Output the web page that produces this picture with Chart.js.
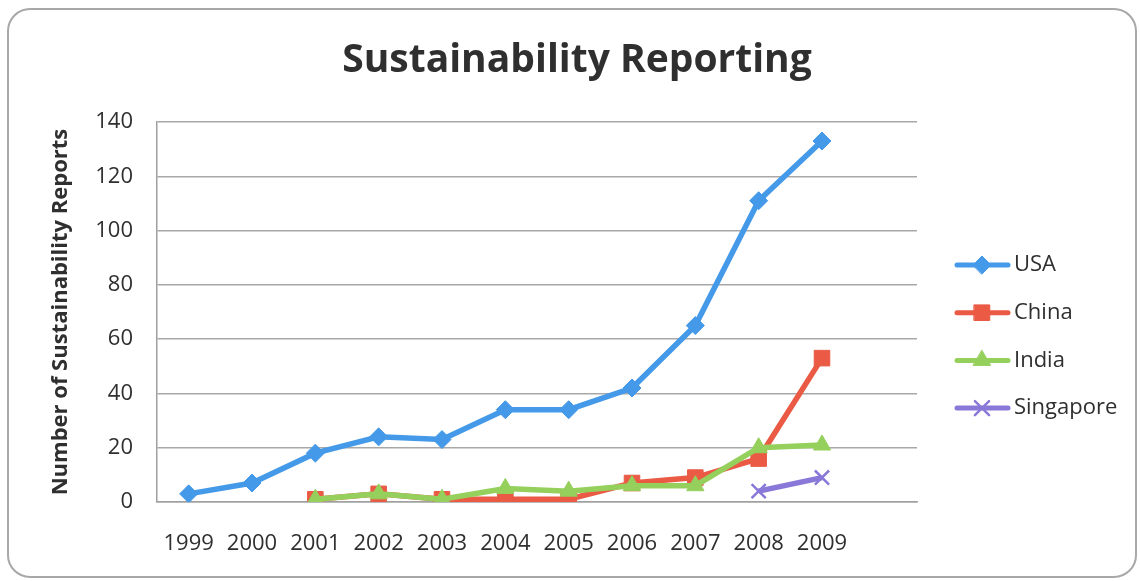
<!DOCTYPE html>
<html>
<head>
<meta charset="utf-8">
<script src="https://cdn.jsdelivr.net/npm/chart.js@4"></script>
<style>
html,body{margin:0;padding:0;background:#fff;}
#wrap{width:1140px;height:581px;position:relative;}
</style>
</head>
<body>
<div id="wrap"><canvas id="c" width="1140" height="581"></canvas></div>
<script>
const years = ['1999','2000','2001','2002','2003','2004','2005','2006','2007','2008','2009',''];
const usa       = [3, 7, 18, 24, 23, 34, 34, 42, 65, 111, 133, null];
const china     = [null, null, 1, 3, 1, 1, 1, 7, 9, 16, 53, null];
const india     = [null, null, 1, 3, 1, 5, 4, 6, 6, 20, 21, null];
const singapore = [null, null, null, null, null, null, null, null, null, 4, 9, null];
const yTicks = [0, 20, 40, 60, 80, 100, 120, 140];
const chartTitle = 'Sustainability Reporting';

const FONT = "'Open Sans', 'DejaVu Sans', sans-serif";
const TXT = '#2f2f2f';

const frame = {
  id: 'frame',
  beforeDraw(chart) {
    const ctx = chart.ctx;
    ctx.save();
    ctx.fillStyle = '#fff';
    ctx.fillRect(0, 0, chart.width, chart.height);
    ctx.strokeStyle = '#a8a8a8';
    ctx.lineWidth = 2;
    ctx.beginPath();
    ctx.roundRect(8, 9, 1128, 568, 22);
    ctx.stroke();
    ctx.fillStyle = TXT;
    ctx.font = 'bold 39px ' + FONT;
    ctx.textAlign = 'center';
    ctx.textBaseline = 'middle';
    ctx.fillText(chartTitle, 577, 61);
    ctx.restore();
  }
};

const legendRight = {
  id: 'legendRight',
  afterDraw(chart) {
    const ctx = chart.ctx;
    ctx.save();
    chart.data.datasets.forEach((ds, i) => {
      const y = 265 + i * 47.7;
      ctx.strokeStyle = ds.borderColor;
      ctx.lineWidth = 5;
      ctx.lineCap = 'round';
      ctx.beginPath();
      ctx.moveTo(957, y);
      ctx.lineTo(1008, y);
      ctx.stroke();
      ctx.fillStyle = ds.pointBackgroundColor;
      ctx.strokeStyle = ds.pointBorderColor;
      ctx.lineWidth = ds.pointBorderWidth;
      Chart.helpers.drawPoint(ctx, {pointStyle: ds.pointStyle, radius: ds.pointRadius, rotation: 0, borderWidth: ds.pointBorderWidth}, 982, y);
      ctx.fillStyle = TXT;
      ctx.font = '22px ' + FONT;
      ctx.textAlign = 'left';
      ctx.textBaseline = 'middle';
      ctx.fillText(ds.label, 1014, y);
    });
    ctx.restore();
  }
};

function series(label, data, color, style, radius, bw, order) {
  return {
    label, data, order,
    borderColor: color,
    backgroundColor: color,
    borderWidth: 5.5,
    pointStyle: style,
    pointRadius: radius,
    pointHoverRadius: radius,
    pointBackgroundColor: color,
    pointBorderColor: color,
    pointBorderWidth: bw,
    tension: 0,
    spanGaps: false
  };
}

new Chart(document.getElementById('c'), {
  type: 'line',
  data: {
    labels: years,
    datasets: [
      series('USA', usa, '#4499e8', 'rectRot', 9, 1, 4),
      series('China', china, '#ea5a44', 'rect', 11, 1, 3),
      series('India', india, '#95d05c', 'triangle', 10, 1, 2),
      series('Singapore', singapore, '#8a78d8', 'crossRot', 10, 2.5, 1)
    ]
  },
  options: {
    responsive: false,
    animation: false,
    devicePixelRatio: 1,
    layout: { padding: { left: 0, right: 223, top: 122, bottom: 0 } },
    plugins: {
      legend: { display: false },
      tooltip: { enabled: false },
      title: { display: false }
    },
    scales: {
      x: {
        type: 'category',
        offset: true,
        grid: { display: false, drawTicks: false },
        border: { display: true, color: '#a0a0a0', width: 1.5 },
        ticks: { color: TXT, font: { family: FONT, size: 22 }, padding: 29, maxRotation: 0, autoSkip: false },
        afterFit(s) { s.height = 79; }
      },
      y: {
        min: 0, max: 140,
        afterBuildTicks(s) { s.ticks = yTicks.map(v => ({ value: v })); },
        grid: { color: '#a8a8a8', lineWidth: 1.5, drawTicks: false },
        border: { display: true, color: '#a0a0a0', width: 1.5 },
        ticks: { color: TXT, font: { family: FONT, size: 22 }, padding: 24 },
        title: {
          display: true,
          text: 'Number of Sustainability Reports',
          color: TXT,
          font: { family: FONT, size: 22, weight: 'bold' },
          padding: { top: 48, bottom: 0 }
        },
        afterFit(s) { s.width = 157; }
      }
    }
  },
  plugins: [frame, legendRight]
});
</script>
</body>
</html>
